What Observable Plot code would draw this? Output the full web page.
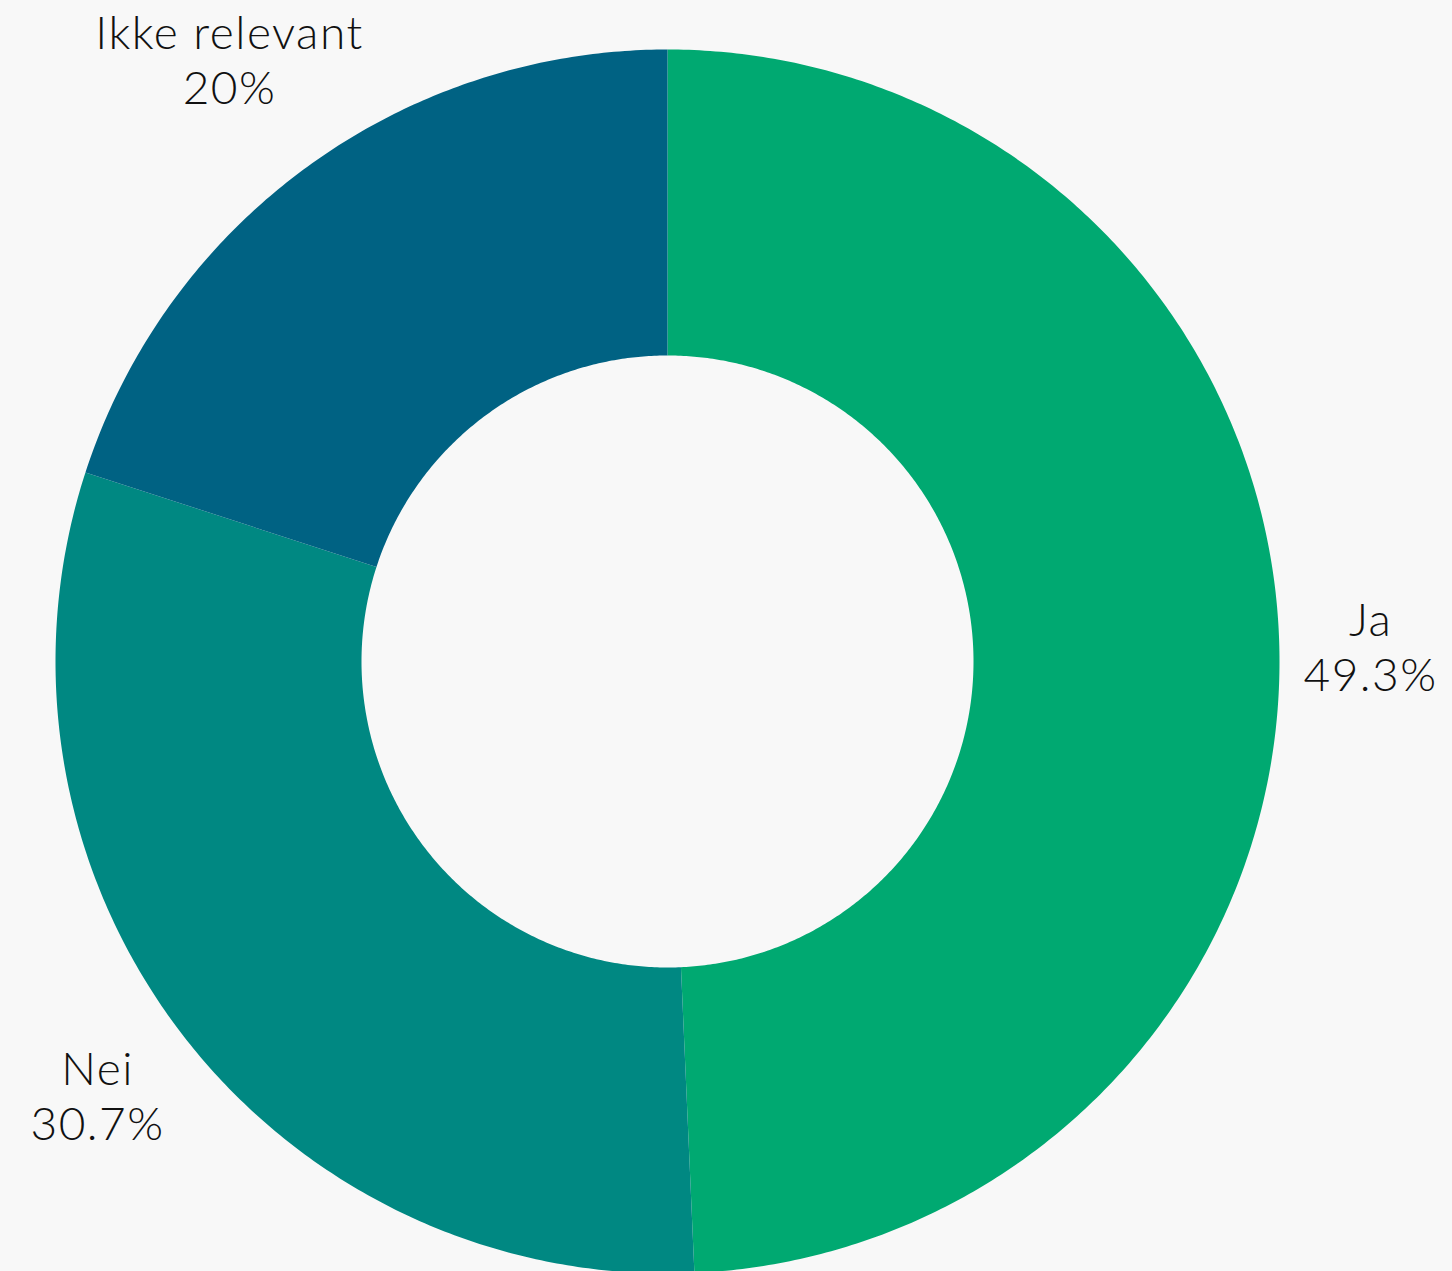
<!DOCTYPE html>
<html>
<head>
<meta charset="utf-8">
<script src="https://cdn.jsdelivr.net/npm/d3@7"></script>
<script src="https://cdn.jsdelivr.net/npm/@observablehq/plot@0.6"></script>
<style>
  html, body { margin: 0; padding: 0; background: #f8f8f8; }
  #chart svg { display: block; }
  #chart svg text { letter-spacing: 1.5px; }
</style>
</head>
<body>
<div id="chart"></div>
<script>
// ---- data ----
const categories = ["Ja", "Nei", "Ikke relevant"];
const values = [49.3, 30.7, 20];
const valueLabels = ["49.3%", "30.7%", "20%"];
const colors = ["#00a971", "#008882", "#006283"];

// ---- layout ----
const W = 1452, H = 1271;
const cx = 667, cy = 661;        // pixel centre
const R = 612;                   // outer radius px
const innerFrac = 306 / 612;     // inner radius / outer
const labelGap = 24;             // px between ring and label box
const fontSize = 46, lineH = 1.2, fontFamily = "Lato", fontWeight = 300;

const pie = d3.pie().sort(null).value(d => d)(values);

// polygon vertices for each slice in radius units (y up)
const poly = [];
pie.forEach((p, i) => {
  const a0 = p.startAngle, a1 = p.endAngle;
  const n = Math.max(8, Math.ceil((a1 - a0) / (Math.PI / 360)));
  for (let k = 0; k <= n; k++) {
    const a = a0 + (a1 - a0) * k / n;
    poly.push({cat: categories[i], x: Math.sin(a), y: Math.cos(a)});
  }
  for (let k = n; k >= 0; k--) {
    const a = a0 + (a1 - a0) * k / n;
    poly.push({cat: categories[i], x: innerFrac * Math.sin(a), y: innerFrac * Math.cos(a)});
  }
});

// label positions: on the mid-angle ray, pushed out until the text box clears the ring
const ctx = document.createElement("canvas").getContext("2d");
ctx.font = `${fontWeight} ${fontSize}px "${fontFamily}"`;
if ("letterSpacing" in ctx) ctx.letterSpacing = "1.5px";
const labels = pie.map((p, i) => {
  const text = categories[i] + "\n" + valueLabels[i];
  const lines = text.split("\n");
  const hw = d3.max(lines, l => ctx.measureText(l).width) / 2;
  const hh = (0.72 * fontSize + (lines.length - 1) * lineH * fontSize) / 2;
  const m = (p.startAngle + p.endAngle) / 2;
  const sx = Math.sin(m), sy = Math.cos(m);
  const target = R + labelGap;
  let lo = 0, hi = 3 * R;
  for (let it = 0; it < 60; it++) {
    const t = (lo + hi) / 2;
    const dx = Math.max(Math.abs(t * sx) - hw, 0), dy = Math.max(Math.abs(t * sy) - hh, 0);
    if (Math.hypot(dx, dy) < target) lo = t; else hi = t;
  }
  return {text, x: lo * sx / R, y: lo * sy / R};
});

const chart = Plot.plot({
  width: W,
  height: H,
  margin: 0,
  style: {background: "#f8f8f8", overflow: "visible"},
  x: {domain: [-cx / R, (W - cx) / R], range: [0, W], axis: null},
  y: {domain: [-(H - cy) / R, cy / R], range: [H, 0], axis: null},
  color: {domain: categories, range: colors},
  marks: [
    Plot.line(poly, {x: "x", y: "y", z: "cat", fill: "cat", stroke: "none", curve: "linear-closed"}),
    Plot.text(labels, {
      x: "x", y: "y", text: "text",
      fontSize, fontFamily, fontWeight, lineHeight: lineH,
      fill: "#111", textAnchor: "middle", lineAnchor: "middle"
    })
  ]
});
document.getElementById("chart").append(chart);
</script>
</body>
</html>
